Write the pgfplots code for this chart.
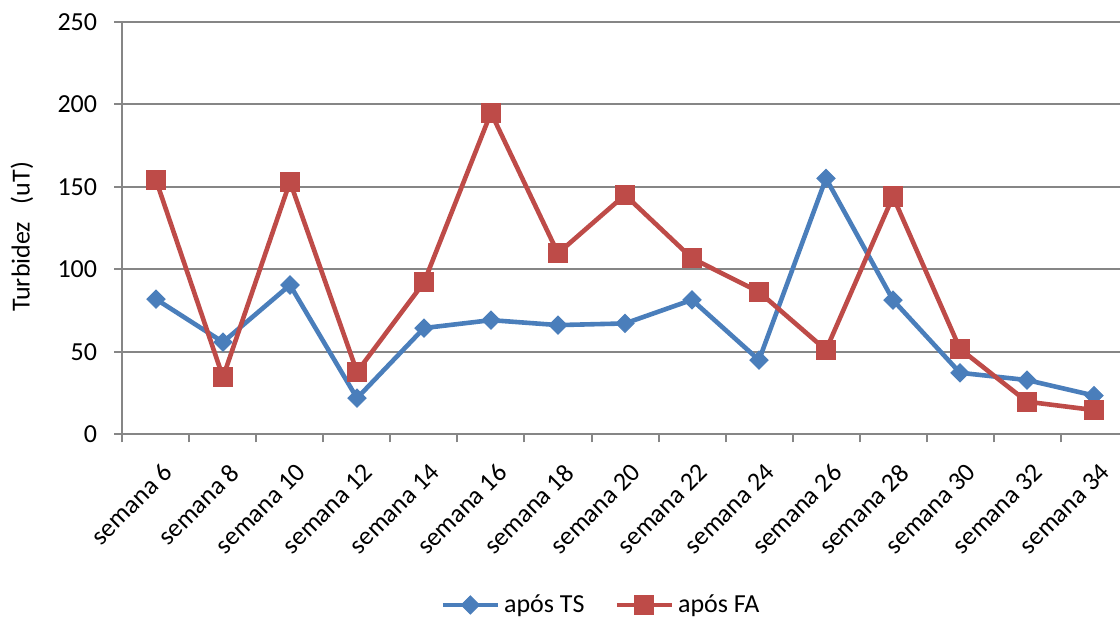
\documentclass[border=0pt]{standalone}
\usepackage{pgfplots}
\pgfplotsset{compat=1.18}
\usepackage{pgfplotstable}
\usepackage{fontspec}
\setmainfont{Carlito}
\definecolor{sblue}{HTML}{4A7EBB}
\definecolor{sred}{HTML}{BE4B48}
\definecolor{axgray}{HTML}{868686}
\pgfplotstableread{
x ts fa
0 82 154.2
1 56 34.7
2 90.6 153.2
3 22 38
4 64.5 92.2
5 69.3 195
6 66.3 109.8
7 67.3 145.2
8 81.6 106.8
9 45.1 86.4
10 155.2 51.2
11 81.5 144.2
12 37.4 51.9
13 33 19.9
14 23.6 14.8
}\data
\begin{document}
\begin{tikzpicture}
\begin{axis}[
  name=ax,
  anchor=south west, at={(0,0)},
  scale only axis,
  width=502.5pt, height=206.25pt,
  xmin=-0.5, xmax=14.5,
  ymin=0, ymax=250,
  ytick={0,50,...,250},
  xtick={-0.5,0.5,...,14.5},
  x tick label as interval,
  xticklabels={semana 6,semana 8,semana 10,semana 12,semana 14,semana 16,semana 18,semana 20,semana 22,semana 24,semana 26,semana 28,semana 30,semana 32,semana 34},
  axis x line*=bottom, axis y line*=left,
  axis line style={-, draw=axgray, line width=1pt},
  tick style={draw=axgray, line width=1pt},
  tick align=outside,
  major tick length=4pt,
  ymajorgrids,
  grid style={draw=axgray, line width=1pt},
  /pgf/number format/assume math mode=true,
  tick label style={font=\fontsize{13}{15.6}\selectfont, text=black},
  yticklabel style={anchor=east, inner sep=0pt, xshift=-8.5pt},
  xticklabel style={rotate=45, anchor=north east, inner sep=0pt, yshift=-8.5pt, xshift=-5pt},
  ylabel={Turbidez\ \ \ (uT)},
  ylabel style={font=\fontsize{13}{15.6}\selectfont, at={(axis description cs:-0.1,0.479)}, anchor=center},
  legend style={at={(axis description cs:0.4771,-0.4133)}, anchor=center, draw=none,
    font=\fontsize{13}{15.6}\selectfont, legend columns=2,
    /tikz/every even column/.append style={column sep=13pt}},
  legend image code/.code={\draw[mark repeat=2,mark phase=2] plot coordinates {(0pt,0pt)(13.75pt,0pt)(27.5pt,0pt)};},
]
\addplot[sblue, line width=2.3pt, mark=square*, mark size=3.2pt, mark options={rotate=45, solid, line width=0.5pt}] table[x=x, y=ts] {\data};
\addlegendentry{após TS}
\addplot[sred, line width=2.3pt, mark=square*, mark size=4.8pt, mark options={solid, line width=0.5pt}] table[x=x, y=fa] {\data};
\addlegendentry{após FA}
\end{axis}
\pgfresetboundingbox
\path (-61.25pt,-92.25pt) rectangle (498.75pt,217.25pt);
\end{tikzpicture}
\end{document}
